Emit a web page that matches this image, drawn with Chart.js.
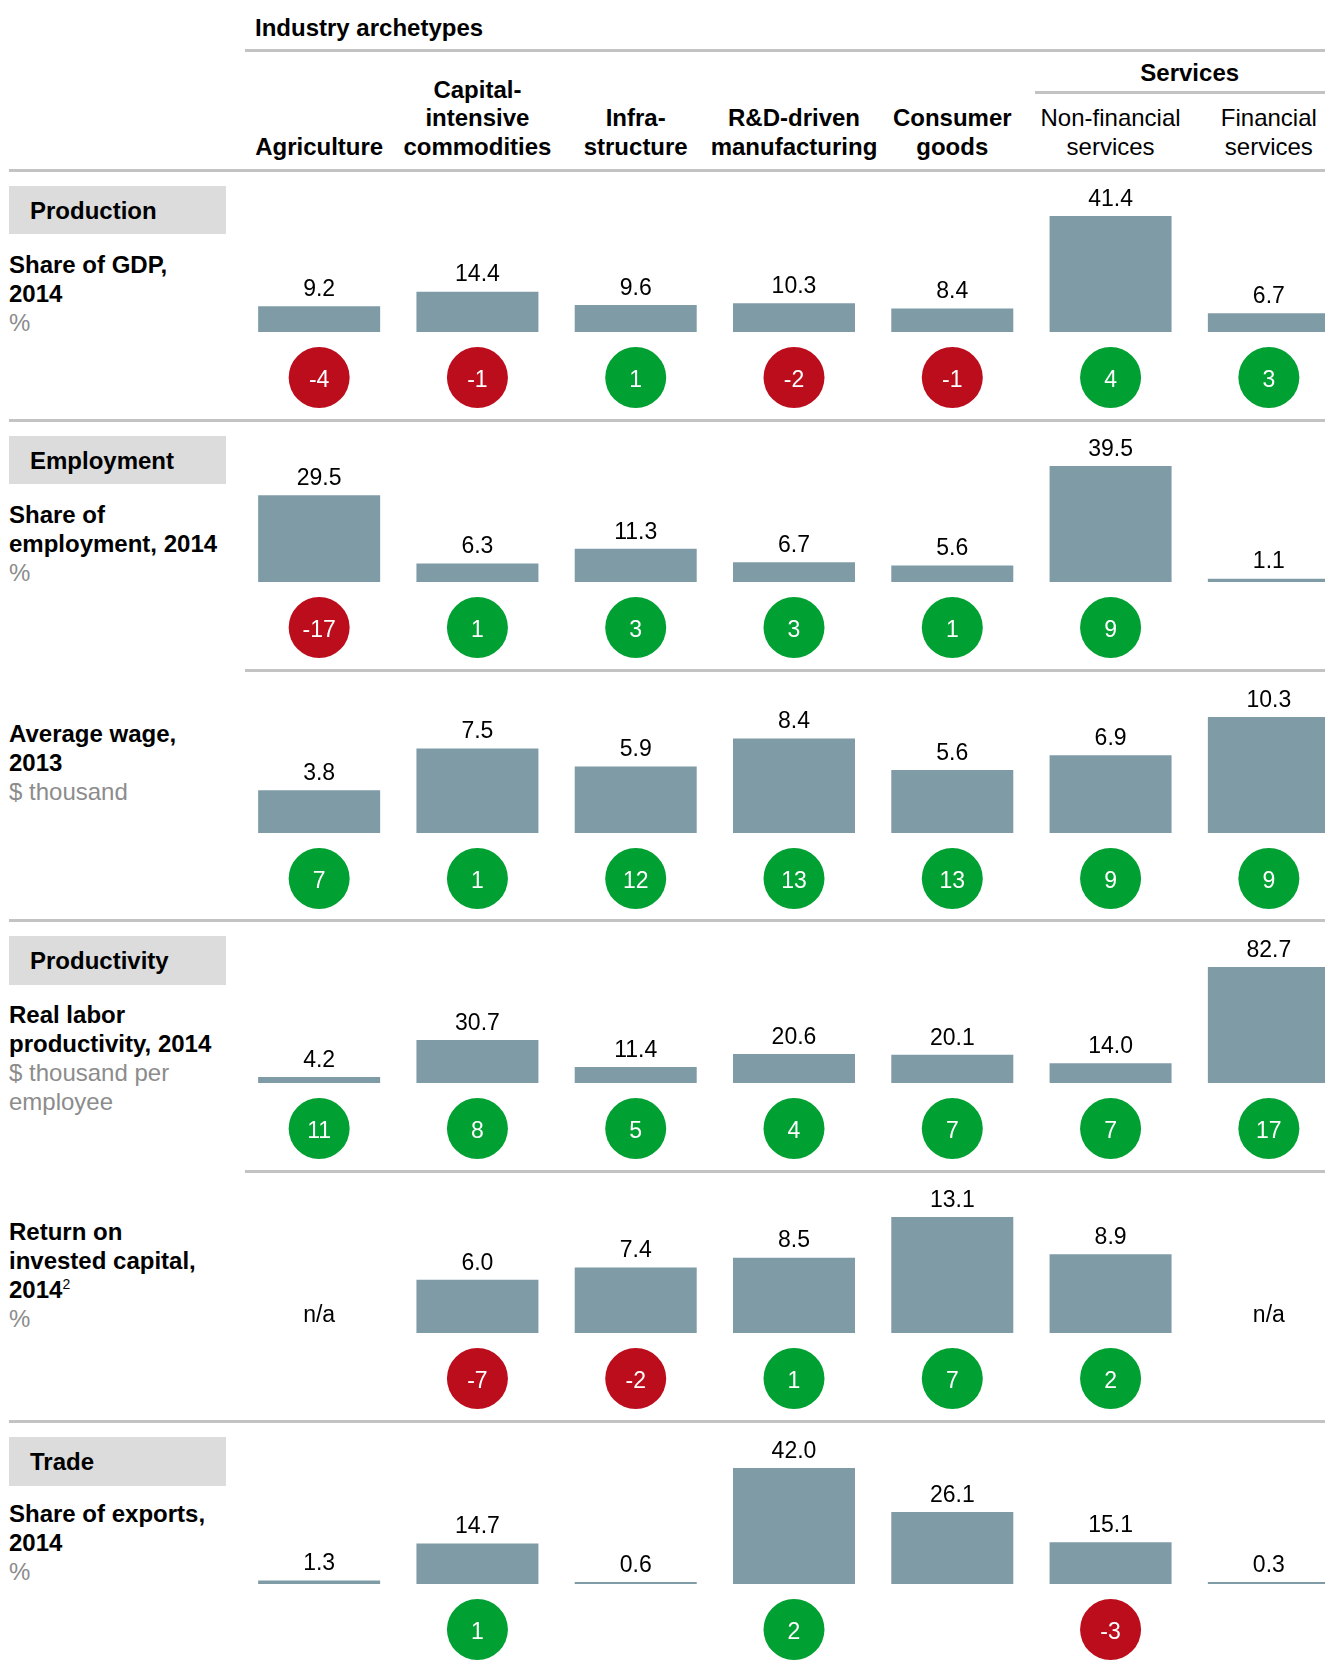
<!DOCTYPE html>
<html>
<head>
<meta charset="utf-8">
<script src="https://cdn.jsdelivr.net/npm/chart.js@4.4.1/dist/chart.umd.min.js"></script>
<style>
  html, body { margin: 0; padding: 0; background: #fff; overflow: hidden; }
  #page { position: relative; width: 1325px; height: 1664px; overflow: hidden;
          font-family: 'Liberation Sans', Arial, sans-serif; color: #000; }
  .rule { position: absolute; height: 3px; background: #c3c3c3; }
  .head { position: absolute; font-size: 24px; line-height: 28.7px; text-align: center;
          white-space: nowrap; transform: translateX(-50%); }
  .label { position: absolute; left: 9px; font-size: 24px; line-height: 29px; white-space: nowrap; }
  .label .t { font-weight: bold; }
  .label .u { color: #8c8c8c; }
  .label sup { font-size: 14px; font-weight: normal; line-height: 0; }
  .section { position: absolute; left: 9px; width: 217px; height: 48.5px; background: #dcdcdc;
             font-weight: bold; font-size: 24px; line-height: 50px; padding-left: 21px; box-sizing: border-box; }
  .row { position: absolute; left: 240px; }
</style>
</head>
<body>
<div id="page"></div>
<script>
"use strict";

// columns (header lines), last two sit under "Services"
const categories = [
  ['Agriculture'],
  ['Capital-', 'intensive', 'commodities'],
  ['Infra-', 'structure'],
  ['R&D-driven', 'manufacturing'],
  ['Consumer', 'goods'],
  ['Non-financial', 'services'],
  ['Financial', 'services']
];
const servicesColumns = 2;

const gdpShare = [9.2, 14.4, 9.6, 10.3, 8.4, 41.4, 6.7];
const gdpShareChange = [-4, -1, 1, -2, -1, 4, 3];

const employmentShare = [29.5, 6.3, 11.3, 6.7, 5.6, 39.5, 1.1];
const employmentShareChange = [-17, 1, 3, 3, 1, 9, null];

const averageWage = [3.8, 7.5, 5.9, 8.4, 5.6, 6.9, 10.3];
const averageWageChange = [7, 1, 12, 13, 13, 9, 9];

const laborProductivity = [4.2, 30.7, 11.4, 20.6, 20.1, 14.0, 82.7];
const laborProductivityChange = [11, 8, 5, 4, 7, 7, 17];

const returnOnCapital = [null, 6.0, 7.4, 8.5, 13.1, 8.9, null];
const returnOnCapitalChange = [null, -7, -2, 1, 7, 2, null];

const exportShare = [1.3, 14.7, 0.6, 42.0, 26.1, 15.1, 0.3];
const exportShareChange = [null, 1, null, 2, null, -3, null];

const rows = [
  { section: 'Production', title: ['Share of GDP,', '2014'], unit: ['%'], values: gdpShare, change: gdpShareChange },
  { section: 'Employment', title: ['Share of', 'employment, 2014'], unit: ['%'], values: employmentShare, change: employmentShareChange },
  { section: null, title: ['Average wage,', '2013'], unit: ['$ thousand'], values: averageWage, change: averageWageChange },
  { section: 'Productivity', title: ['Real labor', 'productivity, 2014'], unit: ['$ thousand per', 'employee'], values: laborProductivity, change: laborProductivityChange },
  { section: null, title: ['Return on', 'invested capital,', '2014<sup>2</sup>'], unit: ['%'], values: returnOnCapital, change: returnOnCapitalChange },
  { section: 'Trade', title: ['Share of exports,', '2014'], unit: ['%'], values: exportShare, change: exportShareChange }
];

// layout
const page = document.getElementById('page');
const plotLeft = 240, plotWidth = 1108;
const band = plotWidth / categories.length;
const rowPitch = 250.3, firstRule = 170;
const labelOffsets = [94, 94, 63, 94, 60.5, 92];
const FONT = "'Liberation Sans', Arial, sans-serif";

function el(cls, css, html) {
  const d = document.createElement('div');
  d.className = cls;
  Object.assign(d.style, css);
  if (html != null) d.innerHTML = html;
  page.appendChild(d);
  return d;
}
function rule(x, y, x2) {
  el('rule', { left: x + 'px', top: (y - 1.5) + 'px', width: (x2 - x) + 'px' });
}

// header
el('label', { left: '255px', top: '13px', fontWeight: 'bold' }, 'Industry archetypes');
rule(245, 50, 1325);
const svcCenter = plotLeft + band * (categories.length - servicesColumns / 2);
el('head', { left: svcCenter + 'px', top: (73.3 - 14.35) + 'px', fontWeight: 'bold' }, 'Services');
rule(1035, 92, 1325);
categories.forEach((lines, i) => {
  const cx = plotLeft + band * (i + 0.5);
  const top = 147.4 + 14.35 - lines.length * 28.7;
  const bold = i < categories.length - servicesColumns;
  el('head', { left: cx + 'px', top: top + 'px', fontWeight: bold ? 'bold' : 'normal' }, lines.join('<br>'));
});

const markerPlugin = {
  id: 'markers',
  afterDatasetsDraw(chart) {
    const ctx = chart.ctx;
    const ds = chart.data.datasets[0];
    const meta = chart.getDatasetMeta(0);
    const yZero = chart.scales.y.getPixelForValue(0);
    ctx.save();
    ctx.textAlign = 'center';
    ctx.textBaseline = 'alphabetic';
    ctx.font = '23px ' + FONT;
    ds.data.forEach((v, i) => {
      const x = chart.scales.x.getPixelForValue(i);
      ctx.fillStyle = '#000';
      if (v == null) {
        ctx.fillText('n/a', x, yZero - 19 + 8.2);
      } else {
        const top = Math.min(meta.data[i].y, yZero - 2);
        ctx.fillText(v.toFixed(1), x, top - 18.5 + 8.2);
      }
      const c = ds.change[i];
      if (c != null) {
        const cy = yZero + 45.5;
        ctx.beginPath();
        ctx.arc(x, cy, 30.5, 0, Math.PI * 2);
        ctx.fillStyle = c < 0 ? '#bc0d1d' : '#00a032';
        ctx.fill();
        ctx.fillStyle = '#fff';
        ctx.fillText(String(c), x, cy + 1 + 8.2);
      }
    });
    ctx.restore();
  }
};

rows.forEach((row, k) => {
  const sep = firstRule + rowPitch * k;
  rule(row.section || k === 0 ? 9 : 245, sep, 1325);
  if (row.section) {
    el('section', { top: (sep + 15.5) + 'px' }, row.section);
  }
  const html = row.title.map(t => '<div class="t">' + t + '</div>').join('') +
               row.unit.map(t => '<div class="u">' + t + '</div>').join('');
  el('label', { top: (sep + labelOffsets[k] - 14.5) + 'px' }, html);

  const canvasTop = sep + 3, canvasHeight = 245;
  const holder = el('row', { top: canvasTop + 'px', width: plotWidth + 'px', height: canvasHeight + 'px' });
  const canvas = document.createElement('canvas');
  canvas.width = plotWidth;
  canvas.height = canvasHeight;
  holder.appendChild(canvas);

  const baseline = 332 + rowPitch * k;
  const barSpan = 116;
  new Chart(canvas, {
    type: 'bar',
    data: {
      labels: categories.map(c => c.join(' ')),
      datasets: [{
        data: row.values,
        change: row.change,
        backgroundColor: '#7f9ba6',
        borderWidth: 0,
        barPercentage: 122 / band,
        categoryPercentage: 1,
        minBarLength: 2
      }]
    },
    options: {
      responsive: false,
      animation: false,
      events: [],
      layout: { padding: { top: baseline - canvasTop - barSpan, bottom: canvasTop + canvasHeight - baseline, left: 0, right: 0 } },
      scales: {
        x: { display: false, offset: true },
        y: { display: false, min: 0, max: Math.max(...row.values.filter(v => v != null)) }
      },
      plugins: { legend: { display: false }, tooltip: { enabled: false } }
    },
    plugins: [markerPlugin]
  });
});
</script>
</body>
</html>
